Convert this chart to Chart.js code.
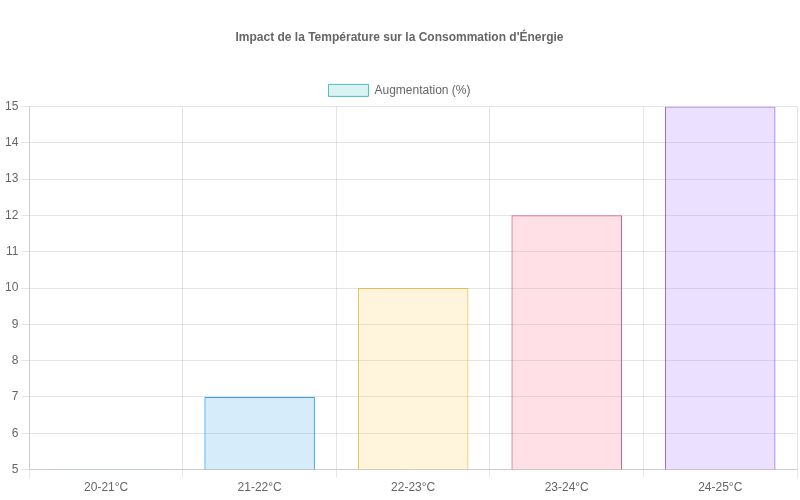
<!DOCTYPE html>
<html>
<head>
<meta charset="utf-8">
<script src="https://cdn.jsdelivr.net/npm/chart.js@4"></script>
<style>
  body { margin: 0; background: #fff; }
  #wrap { width: 800px; height: 500px; }
</style>
</head>
<body>
<div id="wrap"><canvas id="chart"></canvas></div>
<script>
// Chart data
const categories = ['20-21°C', '21-22°C', '22-23°C', '23-24°C', '24-25°C'];
const increase = [5, 7, 10, 12, 15];
const fillColors = ['rgba(75,192,192,0.2)', 'rgba(54,162,235,0.2)', 'rgba(255,205,86,0.2)', 'rgba(255,99,132,0.2)', 'rgba(153,102,255,0.2)'];
const borderColors = ['rgb(75,192,192)', 'rgb(54,162,235)', 'rgb(230,190,80)', 'rgb(220,90,140)', 'rgb(153,102,230)'];

Chart.defaults.font.family = 'Liberation Sans, Arial, sans-serif';
Chart.defaults.color = '#666';

new Chart(document.getElementById('chart'), {
    type: 'bar',
    data: {
        labels: categories,
        datasets: [{
            label: 'Augmentation (%)',
            data: increase,
            backgroundColor: fillColors,
            borderColor: borderColors,
            borderWidth: 1
        }]
    },
    options: {
        responsive: true,
        maintainAspectRatio: false,
        animation: false,
        layout: { padding: { top: 10, bottom: 2, right: 3, left: 2 } },
        plugins: {
            title: {
                display: true,
                text: "Impact de la Température sur la Consommation d'Énergie",
                font: { size: 12, weight: 'bold' },
                padding: { top: 20, bottom: 30 }
            },
            legend: { labels: { font: { size: 12 } } }
        },
        scales: {
            y: { min: 5, max: 15, ticks: { stepSize: 1 } }
        }
    }
});
</script>
</body>
</html>
